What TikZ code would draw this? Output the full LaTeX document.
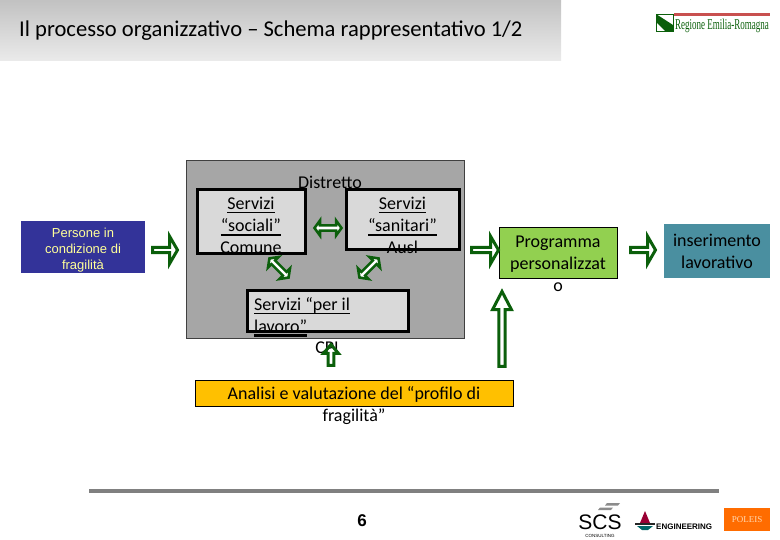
\documentclass[tikz,border=0pt]{standalone}
\usepackage{fontspec}
\setmainfont{Carlito}
\newfontfamily\arialfont{Liberation Sans}
\newfontfamily\logofont{Liberation Serif}
\usetikzlibrary{shapes.arrows}
\definecolor{arrowgreen}{HTML}{0B5F0B}
\definecolor{barblue}{HTML}{333399}
\definecolor{palegold}{HTML}{FFFF99}
\definecolor{progreen}{HTML}{92D050}
\definecolor{tealbox}{HTML}{4A8FA0}
\definecolor{amberbox}{HTML}{FFC000}
\definecolor{logored}{HTML}{C8504F}
\newcommand{\thickline}[1]{\leavevmode\setbox0\hbox{#1}\rlap{\rule[-4.5pt]{\wd0}{2.4pt}}\box0}
\newcommand{\thinline}[1]{\leavevmode\setbox0\hbox{#1}\rlap{\rule[-3.5pt]{\wd0}{1pt}}\box0}
\tikzset{
    body/.style={font=\fontsize{18}{22}\selectfont, align=center, inner sep=0pt, text=black},
    service/.style={draw=black, line width=3pt, fill=black!15, inner sep=0pt, outer sep=0pt},
    flatbox/.style={draw=black, line width=0.7pt, inner sep=0pt, outer sep=0pt},
    singlearrow/.style={shape=single arrow, draw=arrowgreen, line width=3pt, inner sep=0pt, outer sep=0pt,
        single arrow head indent=0pt, anchor=tail},
    doublearrow/.style={shape=double arrow, draw=arrowgreen, fill=white, line width=2.6pt, inner sep=0pt, outer sep=0pt,
        double arrow head indent=0pt, double arrow tip angle=108, minimum height=27pt, minimum width=15pt, double arrow head extend=2.5pt},
    boxarrow/.style={singlearrow, single arrow tip angle=120, minimum height=25pt, minimum width=27pt, single arrow head extend=6pt},
}
\begin{document}
\begin{tikzpicture}[x=1pt,y=-1pt]
    \useasboundingbox (0,0) rectangle (780,540);
    % title band
    \shade[top color=black!24, bottom color=black!8] (0,0) rectangle (561,61);
    \node[font=\fontsize{22.6}{26}\selectfont, anchor=west, inner sep=0pt] (title) at (19,31)
        {Il processo organizzativo -- Schema rappresentativo 1/2};

    % regional logo
    \fill[logored] (674,13) rectangle (770,16.5);
    \draw[arrowgreen, fill=white, line width=0.5pt] (656,14) rectangle (673,31);
    \fill[arrowgreen] (656,14) -- (673,25) -- (673,31) -- (665,31) -- (656,22) -- cycle;
    \node[font=\logofont\fontsize{15}{15}\selectfont, text=arrowgreen, xscale=0.6, inner sep=0pt] (regione) at (722,26)
        {Regione Emilia-Romagna};

    % left box
    \node[fill=barblue, minimum width=124pt, minimum height=52pt, inner sep=0pt] (persone) at (83,247) {};
    \node[font=\arialfont\fontsize{13}{16}\selectfont, text=palegold, align=center, inner sep=0pt] (personetext) at (83,250)
        {Persone in\\condizione di\\fragilit\`a};
    \node[boxarrow] (arrowpersone) at (152.5,250) {};

    % district
    \draw[black!75, fill=black!35, line width=0.8pt] (186.5,160.5) rectangle (464,338);
    \node[service, minimum width=108pt, minimum height=64pt] (sociali) at (251,222) {};
    \node[service, minimum width=113pt, minimum height=60pt] (sanitari) at (402.5,220) {};
    \node[service, minimum width=161pt, minimum height=41pt] (lavoro) at (327.5,311.5) {};
    \node[body] (distretto) at (330,182) {Distretto};
    \node[body, anchor=north] (socialitext) at (251,197) {\thinline{Servizi}\\\thickline{``sociali''}\\Comune};
    \node[body, anchor=north] (sanitaritext) at (402.5,197) {\thinline{Servizi}\\\thickline{``sanitari''}\\Ausl};
    \node[body, anchor=north west, align=left] (lavorotext) at (254,297) {\thinline{Servizi ``per il}\\\thickline{lavoro''}};
    \node[body] (cpi) at (327,348) {CPI};
    \node[doublearrow] (socsan) at (328,228) {};
    \node[doublearrow, rotate=-45] (soclav) at (279,268) {};
    \node[doublearrow, rotate=45] (sanlav) at (369,268) {};
    \node[singlearrow, single arrow tip angle=80, rotate=90, minimum height=21pt, minimum width=15pt, single arrow head extend=2.5pt] (arrowcpi) at (331,365.5) {};

    % programme
    \node[flatbox, fill=progreen, minimum width=118pt, minimum height=51pt] (programma) at (558,252.5) {};
    \node[body, anchor=north] (programmatext) at (558,235.5) {Programma\\personalizzat\\o};
    \node[boxarrow, minimum height=27pt] (arrowprogramma) at (471.5,250) {};
    \node[boxarrow] (arrowinserimento) at (630.5,250) {};
    \node[fill=tealbox, minimum width=106pt, minimum height=54pt, inner sep=0pt] (inserimento) at (717,251) {};
    \node[body, anchor=north] (inserimentotext) at (717,233.5) {inserimento\\lavorativo};

    % profile
    \node[flatbox, fill=amberbox, minimum width=318pt, minimum height=26pt] (analisi) at (354,393) {};
    \node[body, anchor=north] (analisitext) at (354,386) {Analisi e valutazione del ``profilo di\\fragilit\`a''};
    \node[singlearrow, single arrow tip angle=55, rotate=90, minimum height=75pt, minimum width=19pt, single arrow head extend=3pt] (arrowanalisi) at (502,366.5) {};

    % footer
    \fill[black!50] (89,488.5) rectangle (719,493);
    \node[font=\arialfont\bfseries\fontsize{17}{17}\selectfont, inner sep=0pt] (pagina) at (362,521) {6};

    % footer logos
    \fill[black!45] (607,503) -- (620,503) -- (618,505.5) -- (605,505.5) -- cycle
        (600,507.5) -- (613,507.5) -- (611,510) -- (598,510) -- cycle;
    \node[font=\arialfont\fontsize{21}{21}\selectfont, inner sep=0pt] (scs) at (600,522) {SCS};
    \node[font=\arialfont\fontsize{4.5}{5}\selectfont, inner sep=0pt] (consulting) at (600,535.5) {CONSULTING};
    \fill[purple!80!black] (645,511) -- (650,523) -- (640,523) -- cycle;
    \fill[black!85] (635,523) -- (655,523) -- (655,525) -- (635,525) -- cycle;
    \fill[teal!80!black] (637,526) -- (653,526) -- (648,530) -- (642,530) -- cycle;
    \node[font=\arialfont\bfseries\fontsize{8}{8}\selectfont, anchor=west, inner sep=0pt] (engineering) at (656,527) {ENGINEERING};
    \node[fill=orange!85!red, minimum width=46pt, minimum height=23pt, inner sep=0pt] (poleisbox) at (747,519.5) {};
    \node[font=\logofont\fontsize{9}{9}\selectfont, text=orange!30!white, inner sep=0pt] (poleis) at (747,519.5) {POLEIS};
\end{tikzpicture}
\end{document}
